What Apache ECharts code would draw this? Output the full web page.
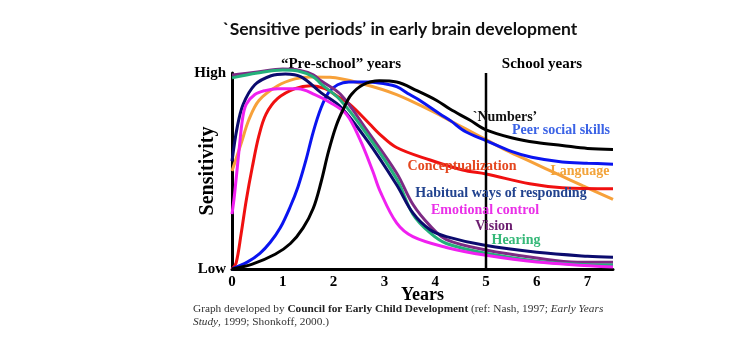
<!DOCTYPE html>
<html>
<head>
<meta charset="utf-8">
<script src="https://cdn.jsdelivr.net/npm/echarts@6/dist/echarts.min.js"></script>
<style>
html,body{margin:0;padding:0;background:#fff;}
#chart{width:736px;height:350px;}
</style>
</head>
<body>
<div id="chart"></div>
<script>
// ---- Data (x = years, y = relative sensitivity, 0 = Low, 100 = High) ----
const xTickLabels = ['0','1','2','3','4','5','6','7'];
const yTickLabels = {0: 'Low', 100: 'High'};
const schoolStart = 5;

const numbers = [[0,0],[0.4,2.5],[0.85,7.5],[1.15,13],[1.4,21],[1.6,31],[1.75,44],[1.9,60],[2.05,73],[2.2,82],[2.35,89],[2.58,94],[2.9,96],[3.24,95.4],[3.64,91],[4.03,86],[4.29,81.6],[4.68,76],[5,71],[5.5,67],[6,64.5],[6.5,63],[7,61.5],[7.5,61]];
const peerSocial = [[0,0],[0.3,3.5],[0.55,8],[0.75,13.5],[0.95,21],[1.15,32],[1.3,42],[1.45,55],[1.6,70],[1.75,82],[1.9,90],[2.08,94],[2.3,95.4],[2.7,95.4],[3.0,94.5],[3.24,93],[3.5,89],[3.7,86],[4.1,79],[4.3,75.7],[4.6,70],[5,65.5],[5.5,60],[5.9,57],[6.5,54.6],[7,54],[7.5,53.5]];
const language = [[0,50],[0.18,64],[0.33,76],[0.53,86],[0.9,93.5],[1.24,97],[1.55,98],[1.93,97.8],[2.58,94.4],[3.24,89],[3.9,81],[4.29,75.7],[4.6,71.5],[5,66],[5.4,60.5],[5.9,54.5],[6.4,48.5],[6.9,42.5],[7.5,35.5]];
const conceptualization = [[0,0],[0.08,3],[0.18,18],[0.28,35],[0.4,52],[0.53,68],[0.67,79],[0.9,87],[1.24,92],[1.55,93.5],[1.83,92],[2.08,88],[2.32,84],[2.71,74],[2.9,69],[3.24,62],[3.9,55.6],[4.54,50.5],[5,48.5],[5.86,43.5],[6.5,41.5],[7.5,41]];
const habitual = [[0,55],[0.1,72],[0.22,84],[0.45,94],[0.77,98.6],[1.05,99.5],[1.36,98],[1.75,90],[2.14,82.6],[2.65,66],[3.24,43],[3.56,28.6],[3.9,20],[4.22,16.5],[4.95,12.2],[6,8.5],[7,6.5],[7.5,6]];
const emotional = [[0,28],[0.05,38],[0.14,61],[0.21,77],[0.28,84],[0.45,89],[0.65,91],[0.9,92],[1.3,92],[1.63,89],[1.93,85],[2.25,79],[2.52,66],[2.77,50],[2.91,40],[3.24,23.5],[3.56,16.5],[4.22,11],[5,7],[6,3.6],[7.5,1]];
const vision = [[0,99],[0.5,100.5],[1.0,102],[1.3,101.5],[1.6,99],[1.75,96],[2.14,89],[2.65,71],[3.24,49],[3.56,33],[3.9,22],[4.22,15],[5,9.7],[6,5.6],[6.8,3.5],[7.5,3.5]];
const hearing = [[0,97.5],[0.5,100],[1.0,101.5],[1.3,101],[1.6,98],[1.75,94.5],[2.14,86],[2.65,69],[3.24,46],[3.56,28],[3.9,18.4],[4.22,13],[5,8],[6,4],[7,2.2],[7.5,2]];

const seriesDefs = [
  {name:'Language', data: language, color:'#f7a13a'},
  {name:'Conceptualization', data: conceptualization, color:'#f01010'},
  {name:'Peer social skills', data: peerSocial, color:'#0a14f0'},
  {name:'Vision', data: vision, color:'#7d2a84'},
  {name:'Hearing', data: hearing, color:'#24b07a'},
  {name:'Habitual ways of responding', data: habitual, color:'#0b0b6e'},
  {name:'Emotional control', data: emotional, color:'#f020f0'},
  {name:'`Numbers’', data: numbers, color:'#000000'}
];

const serif = '"Liberation Serif", "DejaVu Serif", serif';

const labelDefs = [
  {text:'`Numbers’', x:505, y:117, color:'#111111'},
  {text:'Peer social skills', x:561, y:130, color:'#3b63e6'},
  {text:'Conceptualization', x:462, y:166, color:'#e4471f'},
  {text:'Language', x:580, y:171, color:'#f2a33a'},
  {text:'Habitual ways of responding', x:501, y:193, color:'#22438f'},
  {text:'Emotional control', x:485, y:210, color:'#ea2fe8'},
  {text:'Vision', x:494, y:226, color:'#6c1f70'},
  {text:'Hearing', x:516, y:240, color:'#35b878'}
];

const chart = echarts.init(document.getElementById('chart'), null, {renderer:'canvas'});

const series = seriesDefs.map(s => ({
  name: s.name, type:'line', data: s.data, smooth: 0.35,
  showSymbol:false, clip:false, lineStyle:{color:s.color, width:3}, itemStyle:{color:s.color},
  silent:true, z: 3
}));
series.push({
  name:'school', type:'line', data:[[schoolStart,0],[schoolStart,100]], showSymbol:false,
  lineStyle:{color:'#000', width:2.5}, silent:true, z:5
});

const graphics = labelDefs.map(l => ({
  type:'text', x:l.x, y:l.y, silent:true, z:10,
  style:{text:l.text, fill:l.color, font:'bold 14px ' + serif, textAlign:'center', textVerticalAlign:'middle'}
}));
graphics.push(
  {type:'text', x:341, y:64, style:{text:'“Pre-school” years', fill:'#000', font:'bold 15px ' + serif, textAlign:'center', textVerticalAlign:'middle'}},
  {type:'text', x:542, y:64, style:{text:'School years', fill:'#000', font:'bold 15px ' + serif, textAlign:'center', textVerticalAlign:'middle'}},
  {type:'text', x:193, y:309, style:{
    text:'{n|Graph developed by }{b|Council for Early Child Development}{n| (ref: Nash, 1997; }{i|Early Years}',
    textVerticalAlign:'middle',
    rich:{n:{font:'11.3px ' + serif, fill:'#333'}, b:{font:'bold 11.3px ' + serif, fill:'#222'}, i:{font:'italic 11.3px ' + serif, fill:'#333'}}
  }},
  {type:'text', x:193, y:322, style:{
    text:'{i|Study}{n|, 1999; Shonkoff, 2000.)}',
    textVerticalAlign:'middle',
    rich:{n:{font:'11.3px ' + serif, fill:'#333'}, i:{font:'italic 11.3px ' + serif, fill:'#333'}}
  }}
);

chart.setOption({
  animation:false,
  backgroundColor:'#fff',
  title:{
    text:'`Sensitive periods’ in early brain development',
    left:400, top:20, textAlign:'center', padding:0,
    textStyle:{fontFamily:'Lato, "Noto Sans", sans-serif', fontWeight:'bold', fontSize:17.5, color:'#111'}
  },
  grid:{left:232, right:123, top:73, bottom:81},
  xAxis:{
    type:'value', min:0, max:7.5, interval:1,
    name:'Years', nameLocation:'middle', nameGap:17, nameMoveOverlap:false,
    nameTextStyle:{fontFamily:serif, fontWeight:'bold', fontSize:18, color:'#000'},
    axisLine:{show:true, lineStyle:{color:'#000', width:3}},
    axisTick:{show:false},
    splitLine:{show:false},
    axisLabel:{margin:6, fontFamily:serif, fontWeight:'bold', fontSize:15, color:'#000',
      formatter: v => (Number.isInteger(v) && xTickLabels[v] !== undefined) ? xTickLabels[v] : ''}
  },
  yAxis:{
    type:'value', min:0, max:100, interval:100,
    name:'Sensitivity', nameLocation:'middle', nameGap:14, nameRotate:90, nameMoveOverlap:false,
    nameTextStyle:{fontFamily:serif, fontWeight:'bold', fontSize:20, color:'#000'},
    axisLine:{show:true, lineStyle:{color:'#000', width:3}},
    axisTick:{show:false},
    splitLine:{show:false},
    axisLabel:{margin:6, fontFamily:serif, fontWeight:'bold', fontSize:15, color:'#000',
      formatter: v => yTickLabels[v] || ''}
  },
  series: series,
  graphic: graphics
});
</script>
</body>
</html>
